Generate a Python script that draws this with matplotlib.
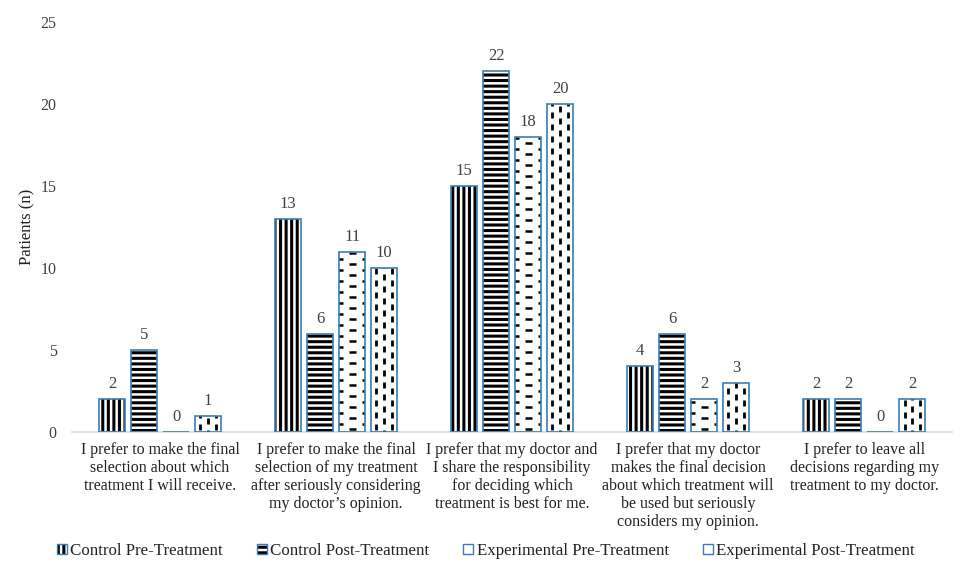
import numpy as np
import matplotlib
matplotlib.use("Agg")
import matplotlib.pyplot as plt
from matplotlib.collections import LineCollection
from matplotlib.patches import Patch

plt.rcParams["font.family"] = ["Liberation Serif", "DejaVu Serif"]
plt.rcParams["hatch.linewidth"] = 2.2

categories = [
    "I prefer to make the final\nselection about which\ntreatment I will receive.",
    "I prefer to make the final\nselection of my treatment\nafter seriously considering\nmy doctor\u2019s opinion.",
    "I prefer that my doctor and\nI share the responsibility\nfor deciding which\ntreatment is best for me.",
    "I prefer that my doctor\nmakes the final decision\nabout which treatment will\nbe used but seriously\nconsiders my opinion.",
    "I prefer to leave all\ndecisions regarding my\ntreatment to my doctor.",
]
series_names = ["Control Pre-Treatment", "Control Post-Treatment",
                "Experimental Pre-Treatment", "Experimental Post-Treatment"]
control_pre = [2, 13, 15, 4, 2]
control_post = [5, 6, 22, 6, 2]
experimental_pre = [0, 11, 18, 2, 0]
experimental_post = [1, 10, 20, 3, 2]
y_ticks = [0, 5, 10, 15, 20, 25]

edge_blue = "#3A7DB5"
text_gray = "#404040"

fig = plt.figure(figsize=(9.6, 5.68), dpi=100)
ax = fig.add_axes([0.075, 0.2394, 0.917, 0.7218])

x = np.arange(len(categories))
width = 0.148
step = 0.182
offsets = [-1.5 * step, -0.5 * step, 0.5 * step, 1.5 * step]
all_series = [control_pre, control_post, experimental_pre, experimental_post]
hatches = ["|||", "---", None, None]

ax.set_xlim(-0.5, len(categories) - 0.5)
ax.set_ylim(0, 25)

containers = []
for vals, off, h in zip(all_series, offsets, hatches):
    bars = ax.bar(x + off, vals, width, color="white", edgecolor="black",
                  linewidth=0, hatch=h, zorder=2)
    ax.bar(x + off, vals, width, fill=False, edgecolor=edge_blue,
           linewidth=1.2, zorder=4)
    containers.append(bars)
    for xi, v in zip(x + off, vals):
        ax.annotate(str(v), (xi, v), xytext=(0, 5), textcoords="offset points",
                    ha="center", va="bottom", fontsize=12, color=text_gray)

# pixel sizes expressed in data units
fig.canvas.draw()
inv = ax.transData.inverted()
p0 = inv.transform((0, 0))
p1 = inv.transform((1, 1))
dx_px = p1[0] - p0[0]
dy_px = p1[1] - p0[1]


def dashed_fill(patch, kind):
    x0, y0 = patch.get_x(), patch.get_y()
    w, h = patch.get_width(), patch.get_height()
    segs = []
    if h <= 0:
        return
    if kind == "h":
        row = 5.5 * dy_px
        half = 3.5 * dx_px
        n = int(h / row) + 2
        for i in range(n):
            yy = y0 + (i + 0.5) * row
            if i % 2 == 0:
                centers = [x0 + w / 2]
            else:
                centers = [x0, x0 + w]
            for cx in centers:
                segs.append([(cx - half, yy), (cx + half, yy)])
        lw = 1.8
    else:
        period = 12 * dy_px
        dash = 6.5 * dy_px
        cols = [0.2, 0.5, 0.8]
        n = int(h / period) + 2
        for j, c in enumerate(cols):
            shift = 0.5 * period if j == 1 else 0.0
            for i in range(-1, n):
                yy = y0 + 2 * dy_px + i * period + shift
                segs.append([(x0 + c * w, yy), (x0 + c * w, yy + dash)])
        lw = 2.0
    lc = LineCollection(segs, colors="black", linewidths=lw, zorder=3)
    ax.add_collection(lc)
    lc.set_clip_path(patch)


for p in containers[2]:
    dashed_fill(p, "h")
for p in containers[3]:
    dashed_fill(p, "v")

ax.set_xlim(-0.5, len(categories) - 0.5)
ax.set_ylim(0, 25)
ax.set_yticks(y_ticks)
ax.set_xticks(x)
ax.set_xticklabels(categories, fontsize=11.5, color="#222222", va="top",
                   linespacing=1.17)
ax.tick_params(axis="both", length=0, labelsize=11.5, colors=text_gray)
ax.tick_params(axis="x", pad=7, labelcolor="#222222")
ax.tick_params(axis="y", pad=11)
for s in ["top", "right", "left"]:
    ax.spines[s].set_visible(False)
ax.spines["bottom"].set_color("#D9D9D9")
ax.spines["bottom"].set_linewidth(1.2)
ax.set_ylabel("Patients (n)", fontsize=12, color="#222222", labelpad=4)


def outline():
    return Patch(fill=False, edgecolor=edge_blue, linewidth=1.0)


handles = [
    (Patch(facecolor="white", edgecolor="black", hatch="|||", linewidth=0), outline()),
    (Patch(facecolor="white", edgecolor="black", hatch="---", linewidth=0), outline()),
    (Patch(facecolor="white", linewidth=0), outline()),
    (Patch(facecolor="white", linewidth=0), outline()),
]
leg = fig.legend(handles, series_names, loc="center", bbox_to_anchor=(0.506, 0.03),
                 ncol=4, frameon=False, fontsize=12.2, handlelength=0.6,
                 handleheight=0.6, handletextpad=0.2, columnspacing=2.0)
for t in leg.get_texts():
    t.set_color("#222222")

fig.savefig("out.png", dpi=100)
